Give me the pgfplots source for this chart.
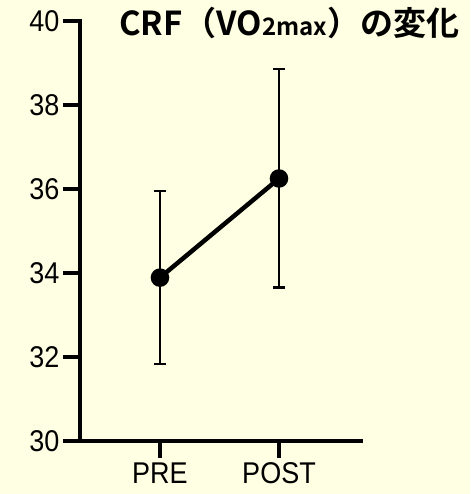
\documentclass[border=0pt]{standalone}
\usepackage{pgfplots}
\pgfplotsset{compat=1.18}
\usepackage{fontspec}
\setmainfont{Liberation Sans}
\newfontfamily\tickfont[FakeStretch=0.9]{Liberation Sans}
\newfontfamily\cjk[BoldFont=Noto Sans CJK JP Bold]{Noto Sans CJK JP}
\definecolor{bg}{RGB}{255,255,228}
\begin{document}
\begin{tikzpicture}[x=1pt,y=1pt]
\fill[bg] (0,0) rectangle (470,494);
\begin{axis}[
  at={(80pt,53pt)}, anchor=south west,
  scale only axis, width=281pt, height=420pt,
  xmin=-0.672, xmax=1.689, ymin=30, ymax=40,
  axis x line*=bottom, axis y line*=left,
  axis line style={line width=4pt, line cap=rect},
  xtick={0,1}, xticklabels={PRE,POST},
  ytick={30,32,...,40},
  tick align=outside, major tick length=17pt,
  tick style={line width=4pt, black},
  /pgf/number format/assume math mode=true,
  ticklabel style={font=\tickfont\fontsize{30}{32}\selectfont},
  yticklabel style={xshift=0pt},
  xticklabel style={yshift=-1pt},
  clip=false,
]
\addplot[black, line width=4.5pt, mark=*, mark size=7pt]
  coordinates {
  (0,33.89)
  (1,36.25)
  };
\addplot[draw=none, mark=none,
  error bars/.cd, y dir=both, y explicit,
  error bar style={line width=2.5pt, black},
  error mark options={rotate=90, mark size=6pt, line width=2.5pt, black}]
  table[x=x, y=y, y error plus=ep, y error minus=em] {
  x y ep em
  0 33.89 2.06 2.06
  1 36.25 2.61 2.59
  };
\end{axis}
\node[anchor=base west, inner sep=0pt] at (119,458) {\cjk\bfseries\fontsize{33}{35}\selectfont CRF\hspace{1pt}（VO{\fontsize{24}{26}\selectfont 2max}）の変化};
\end{tikzpicture}
\end{document}
